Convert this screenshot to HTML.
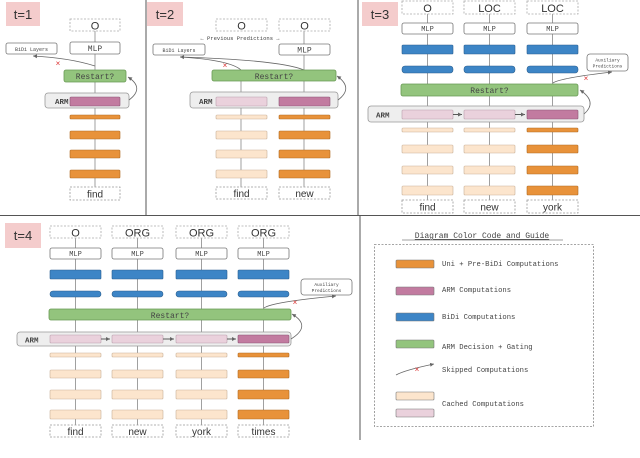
<!DOCTYPE html>
<html><head><meta charset="utf-8"><style>
html,body{margin:0;padding:0;background:#fff}
svg{display:block}
.m{font-family:"Liberation Mono",monospace;fill:#444}
.s{font-family:"Liberation Sans",sans-serif;fill:#333}
</style></head><body>
<svg width="640" height="458" viewBox="0 0 640 458" xmlns="http://www.w3.org/2000/svg">
<defs>
<marker id="ah" markerWidth="6" markerHeight="6" refX="5" refY="3" orient="auto"><path d="M0,0.5 L5,3 L0,5.5z" fill="#666"/></marker>
</defs>
<g stroke="#555" stroke-width="1">
<line x1="146" y1="0" x2="146" y2="215"/>
<line x1="358" y1="0" x2="358" y2="215"/>
<line x1="0" y1="215.5" x2="640" y2="215.5"/>
<line x1="360" y1="215" x2="360" y2="440"/>
</g>

<!-- ===== t=1 ===== -->
<rect x="6" y="2" width="34" height="24" fill="#f4cccc"/>
<text x="23" y="19" class="s" font-size="13" text-anchor="middle">t=1</text>
<line x1="95" y1="200" x2="95" y2="31" stroke="#888" stroke-width="0.8"/>
<rect x="70" y="19" width="50" height="12" fill="#fff" stroke="#aaa" stroke-dasharray="2,1.5" stroke-width="0.8"/>
<text x="95" y="29.5" class="s" font-size="11" text-anchor="middle">O</text>
<rect x="70" y="42" width="50" height="12" rx="2" fill="#fff" stroke="#777" stroke-width="0.8"/>
<text x="95" y="51" class="m" font-size="8" text-anchor="middle">MLP</text>
<rect x="6" y="43" width="51" height="11" rx="2" fill="#fff" stroke="#777" stroke-width="0.8"/>
<text x="31.5" y="51" class="m" font-size="5" text-anchor="middle">BiDi Layers</text>
<path d="M95,66 Q70,58 33,56" fill="none" stroke="#666" stroke-width="0.8" marker-end="url(#ah)"/>
<text x="58" y="66" font-size="8" fill="#d33" text-anchor="middle" font-family="Liberation Sans">×</text>
<rect x="64" y="70" width="62" height="12" rx="2" fill="#93c47d" stroke="#6a9a55" stroke-width="0.8"/>
<text x="95" y="79" class="m" font-size="8" text-anchor="middle">Restart?</text>
<rect x="45" y="93" width="84" height="15" rx="3" fill="#eee" stroke="#999" stroke-width="0.8"/>
<text x="55" y="104" class="m" font-size="7.5" font-weight="bold">ARM</text>
<rect x="70" y="97" width="50" height="9" rx="1" fill="#c27ba0" stroke="#8a5575" stroke-width="0.6"/>
<path d="M129,100 Q145,88 128,77" fill="none" stroke="#666" stroke-width="0.8" marker-end="url(#ah)"/>
<g fill="#e8923a" stroke="#b06a22" stroke-width="0.6">
<rect x="70" y="115" width="50" height="4" rx="1"/><rect x="70" y="131" width="50" height="8" rx="1"/>
<rect x="70" y="150" width="50" height="8" rx="1"/><rect x="70" y="170" width="50" height="8" rx="1"/></g>
<rect x="70" y="187" width="50" height="13" fill="#fff" stroke="#999" stroke-dasharray="2,1.5" stroke-width="0.8"/>
<text x="95" y="197.5" class="s" font-size="10" text-anchor="middle">find</text>

<!-- ===== t=2 ===== -->
<rect x="147" y="2" width="36" height="24" fill="#f4cccc"/>
<text x="165" y="19" class="s" font-size="13" text-anchor="middle">t=2</text>
<line x1="241" y1="187" x2="241" y2="70" stroke="#888" stroke-width="0.8"/>
<line x1="304" y1="187" x2="304" y2="31" stroke="#888" stroke-width="0.8"/>
<rect x="216" y="19" width="51" height="12" fill="#fff" stroke="#aaa" stroke-dasharray="2,1.5" stroke-width="0.8"/>
<text x="241.5" y="29.5" class="s" font-size="11" text-anchor="middle">O</text>
<rect x="279" y="19" width="51" height="12" fill="#fff" stroke="#aaa" stroke-dasharray="2,1.5" stroke-width="0.8"/>
<text x="304.5" y="29.5" class="s" font-size="11" text-anchor="middle">O</text>
<text x="240" y="40" class="m" font-size="5.5" text-anchor="middle">←  Previous Predictions  →</text>
<rect x="153" y="44" width="52" height="11" rx="2" fill="#fff" stroke="#777" stroke-width="0.8"/>
<text x="179" y="52" class="m" font-size="5" text-anchor="middle">BiDi Layers</text>
<rect x="279" y="44" width="51" height="11" rx="2" fill="#fff" stroke="#777" stroke-width="0.8"/>
<text x="304.5" y="52.5" class="m" font-size="8" text-anchor="middle">MLP</text>
<path d="M241,70 Q230,60 180,57" fill="none" stroke="#666" stroke-width="0.8"/>
<path d="M304,70 Q280,60 180,57" fill="none" stroke="#666" stroke-width="0.8" marker-end="url(#ah)"/>
<text x="225" y="68" font-size="8" fill="#d33" text-anchor="middle" font-family="Liberation Sans">×</text>
<rect x="212" y="70" width="124" height="11" rx="2" fill="#93c47d" stroke="#6a9a55" stroke-width="0.8"/>
<text x="274" y="79" class="m" font-size="8" text-anchor="middle">Restart?</text>
<rect x="190" y="92" width="148" height="16" rx="3" fill="#eee" stroke="#999" stroke-width="0.8"/>
<text x="199" y="104" class="m" font-size="7.5" font-weight="bold">ARM</text>
<rect x="216" y="97" width="51" height="9" rx="1" fill="#ead1dc" stroke="#b9a0ac" stroke-width="0.6"/>
<rect x="279" y="97" width="51" height="9" rx="1" fill="#c27ba0" stroke="#8a5575" stroke-width="0.6"/>
<path d="M338,100 Q354,88 337,76" fill="none" stroke="#666" stroke-width="0.8" marker-end="url(#ah)"/>
<g fill="#fce5cd" stroke="#c9b098" stroke-width="0.6">
<rect x="216" y="115" width="51" height="4" rx="1"/><rect x="216" y="131" width="51" height="8" rx="1"/>
<rect x="216" y="150" width="51" height="8" rx="1"/><rect x="216" y="170" width="51" height="8" rx="1"/></g>
<g fill="#e8923a" stroke="#b06a22" stroke-width="0.6">
<rect x="279" y="115" width="51" height="4" rx="1"/><rect x="279" y="131" width="51" height="8" rx="1"/>
<rect x="279" y="150" width="51" height="8" rx="1"/><rect x="279" y="170" width="51" height="8" rx="1"/></g>
<rect x="216" y="187" width="51" height="12" fill="#fff" stroke="#999" stroke-dasharray="2,1.5" stroke-width="0.8"/>
<text x="241.5" y="197" class="s" font-size="10" text-anchor="middle">find</text>
<rect x="279" y="187" width="51" height="12" fill="#fff" stroke="#999" stroke-dasharray="2,1.5" stroke-width="0.8"/>
<text x="304.5" y="197" class="s" font-size="10" text-anchor="middle">new</text>

<!-- ===== t=3 ===== -->
<rect x="362" y="2" width="36" height="24" fill="#f4cccc"/>
<text x="380" y="19" class="s" font-size="13" text-anchor="middle">t=3</text>
<g stroke="#888" stroke-width="0.8">
<line x1="427.5" y1="200" x2="427.5" y2="14"/><line x1="489.5" y1="200" x2="489.5" y2="14"/><line x1="552.5" y1="200" x2="552.5" y2="14"/></g>
<g fill="#fff" stroke="#aaa" stroke-dasharray="2,1.5" stroke-width="0.8">
<rect x="402" y="1" width="51" height="13"/><rect x="464" y="1" width="51" height="13"/><rect x="527" y="1" width="51" height="13"/></g>
<g class="s" font-size="11" text-anchor="middle"><text x="427.5" y="12">O</text><text x="489.5" y="12">LOC</text><text x="552.5" y="12">LOC</text></g>
<g fill="#fff" stroke="#777" stroke-width="0.8">
<rect x="402" y="23" width="51" height="11" rx="2"/><rect x="464" y="23" width="51" height="11" rx="2"/><rect x="527" y="23" width="51" height="11" rx="2"/></g>
<g class="m" font-size="7" text-anchor="middle"><text x="427.5" y="31">MLP</text><text x="489.5" y="31">MLP</text><text x="552.5" y="31">MLP</text></g>
<g fill="#3d85c6" stroke="#2a5f90" stroke-width="0.6">
<rect x="402" y="45" width="51" height="9" rx="1"/><rect x="464" y="45" width="51" height="9" rx="1"/><rect x="527" y="45" width="51" height="9" rx="1"/>
<rect x="402" y="66" width="51" height="7" rx="3"/><rect x="464" y="66" width="51" height="7" rx="3"/><rect x="527" y="66" width="51" height="7" rx="3"/></g>
<rect x="587" y="54" width="41" height="17" rx="3" fill="#fff" stroke="#777" stroke-width="0.8"/>
<text x="607.5" y="61.5" class="m" font-size="4.5" text-anchor="middle">Auxiliary</text>
<text x="607.5" y="67.5" class="m" font-size="4.5" text-anchor="middle">Predictions</text>
<path d="M553,83 Q560,78 612,72" fill="none" stroke="#666" stroke-width="0.8" marker-end="url(#ah)"/>
<text x="586" y="81" font-size="8" fill="#d33" text-anchor="middle" font-family="Liberation Sans">×</text>
<rect x="401" y="84" width="177" height="12" rx="2" fill="#93c47d" stroke="#6a9a55" stroke-width="0.8"/>
<text x="489.5" y="93" class="m" font-size="8" text-anchor="middle">Restart?</text>
<rect x="368" y="106" width="216" height="16" rx="3" fill="#eee" stroke="#999" stroke-width="0.8"/>
<text x="376" y="117.5" class="m" font-size="7.5" font-weight="bold">ARM</text>
<rect x="402" y="110" width="51" height="9" rx="1" fill="#ead1dc" stroke="#b9a0ac" stroke-width="0.6"/>
<rect x="464" y="110" width="51" height="9" rx="1" fill="#ead1dc" stroke="#b9a0ac" stroke-width="0.6"/>
<rect x="527" y="110" width="51" height="9" rx="1" fill="#c27ba0" stroke="#8a5575" stroke-width="0.6"/>
<g stroke="#333" stroke-width="0.8"><line x1="453" y1="114.5" x2="462" y2="114.5" marker-end="url(#ah)"/><line x1="515" y1="114.5" x2="525" y2="114.5" marker-end="url(#ah)"/></g>
<path d="M584,114 Q598,102 580,90" fill="none" stroke="#666" stroke-width="0.8" marker-end="url(#ah)"/>
<g fill="#fce5cd" stroke="#c9b098" stroke-width="0.6">
<rect x="402" y="128" width="51" height="4" rx="1"/><rect x="402" y="145" width="51" height="8" rx="1"/><rect x="402" y="166" width="51" height="8" rx="1"/><rect x="402" y="186" width="51" height="9" rx="1"/>
<rect x="464" y="128" width="51" height="4" rx="1"/><rect x="464" y="145" width="51" height="8" rx="1"/><rect x="464" y="166" width="51" height="8" rx="1"/><rect x="464" y="186" width="51" height="9" rx="1"/></g>
<g fill="#e8923a" stroke="#b06a22" stroke-width="0.6">
<rect x="527" y="128" width="51" height="4" rx="1"/><rect x="527" y="145" width="51" height="8" rx="1"/><rect x="527" y="166" width="51" height="8" rx="1"/><rect x="527" y="186" width="51" height="9" rx="1"/></g>
<g fill="#fff" stroke="#999" stroke-dasharray="2,1.5" stroke-width="0.8">
<rect x="402" y="200" width="51" height="13"/><rect x="464" y="200" width="51" height="13"/><rect x="527" y="200" width="51" height="13"/></g>
<g class="s" font-size="10" text-anchor="middle"><text x="427.5" y="210.5">find</text><text x="489.5" y="210.5">new</text><text x="552.5" y="210.5">york</text></g>

<!-- ===== t=4 ===== -->
<rect x="5" y="223" width="36" height="25" fill="#f4cccc"/>
<text x="23" y="240" class="s" font-size="13" text-anchor="middle">t=4</text>
<g stroke="#888" stroke-width="0.8">
<line x1="75.5" y1="425" x2="75.5" y2="238"/><line x1="137.5" y1="425" x2="137.5" y2="238"/><line x1="201.5" y1="425" x2="201.5" y2="238"/><line x1="263.5" y1="425" x2="263.5" y2="238"/></g>
<g fill="#fff" stroke="#aaa" stroke-dasharray="2,1.5" stroke-width="0.8">
<rect x="50" y="226" width="51" height="12"/><rect x="112" y="226" width="51" height="12"/><rect x="176" y="226" width="51" height="12"/><rect x="238" y="226" width="51" height="12"/></g>
<g class="s" font-size="11" text-anchor="middle"><text x="75.5" y="236.5">O</text><text x="137.5" y="236.5">ORG</text><text x="201.5" y="236.5">ORG</text><text x="263.5" y="236.5">ORG</text></g>
<g fill="#fff" stroke="#777" stroke-width="0.8">
<rect x="50" y="248" width="51" height="11" rx="2"/><rect x="112" y="248" width="51" height="11" rx="2"/><rect x="176" y="248" width="51" height="11" rx="2"/><rect x="238" y="248" width="51" height="11" rx="2"/></g>
<g class="m" font-size="7" text-anchor="middle"><text x="75.5" y="256">MLP</text><text x="137.5" y="256">MLP</text><text x="201.5" y="256">MLP</text><text x="263.5" y="256">MLP</text></g>
<g fill="#3d85c6" stroke="#2a5f90" stroke-width="0.6">
<rect x="50" y="270" width="51" height="9" rx="1"/><rect x="112" y="270" width="51" height="9" rx="1"/><rect x="176" y="270" width="51" height="9" rx="1"/><rect x="238" y="270" width="51" height="9" rx="1"/>
<rect x="50" y="291" width="51" height="6" rx="3"/><rect x="112" y="291" width="51" height="6" rx="3"/><rect x="176" y="291" width="51" height="6" rx="3"/><rect x="238" y="291" width="51" height="6" rx="3"/></g>
<rect x="301" y="279" width="51" height="16" rx="3" fill="#fff" stroke="#777" stroke-width="0.8"/>
<text x="326.5" y="286" class="m" font-size="4.5" text-anchor="middle">Auxiliary</text>
<text x="326.5" y="292" class="m" font-size="4.5" text-anchor="middle">Predictions</text>
<path d="M264,308 Q272,302 336,296" fill="none" stroke="#666" stroke-width="0.8" marker-end="url(#ah)"/>
<text x="295" y="305" font-size="8" fill="#d33" text-anchor="middle" font-family="Liberation Sans">×</text>
<rect x="49" y="309" width="242" height="11" rx="2" fill="#93c47d" stroke="#6a9a55" stroke-width="0.8"/>
<text x="170" y="318" class="m" font-size="8" text-anchor="middle">Restart?</text>
<rect x="17" y="332" width="274" height="14" rx="3" fill="#eee" stroke="#999" stroke-width="0.8"/>
<text x="25" y="342.5" class="m" font-size="7.5" font-weight="bold">ARM</text>
<g fill="#ead1dc" stroke="#b9a0ac" stroke-width="0.6">
<rect x="50" y="335" width="51" height="8" rx="1"/><rect x="112" y="335" width="51" height="8" rx="1"/><rect x="176" y="335" width="51" height="8" rx="1"/></g>
<rect x="238" y="335" width="51" height="8" rx="1" fill="#c27ba0" stroke="#8a5575" stroke-width="0.6"/>
<g stroke="#333" stroke-width="0.8"><line x1="101" y1="339" x2="110" y2="339" marker-end="url(#ah)"/><line x1="163" y1="339" x2="174" y2="339" marker-end="url(#ah)"/><line x1="227" y1="339" x2="236" y2="339" marker-end="url(#ah)"/></g>
<path d="M291,339 Q312,326 292,314" fill="none" stroke="#666" stroke-width="0.8" marker-end="url(#ah)"/>
<g fill="#fce5cd" stroke="#c9b098" stroke-width="0.6">
<rect x="50" y="353" width="51" height="4" rx="1"/><rect x="50" y="370" width="51" height="8" rx="1"/><rect x="50" y="390" width="51" height="9" rx="1"/><rect x="50" y="410" width="51" height="9" rx="1"/>
<rect x="112" y="353" width="51" height="4" rx="1"/><rect x="112" y="370" width="51" height="8" rx="1"/><rect x="112" y="390" width="51" height="9" rx="1"/><rect x="112" y="410" width="51" height="9" rx="1"/>
<rect x="176" y="353" width="51" height="4" rx="1"/><rect x="176" y="370" width="51" height="8" rx="1"/><rect x="176" y="390" width="51" height="9" rx="1"/><rect x="176" y="410" width="51" height="9" rx="1"/></g>
<g fill="#e8923a" stroke="#b06a22" stroke-width="0.6">
<rect x="238" y="353" width="51" height="4" rx="1"/><rect x="238" y="370" width="51" height="8" rx="1"/><rect x="238" y="390" width="51" height="9" rx="1"/><rect x="238" y="410" width="51" height="9" rx="1"/></g>
<g fill="#fff" stroke="#999" stroke-dasharray="2,1.5" stroke-width="0.8">
<rect x="50" y="425" width="51" height="12"/><rect x="112" y="425" width="51" height="12"/><rect x="176" y="425" width="51" height="12"/><rect x="238" y="425" width="51" height="12"/></g>
<g class="s" font-size="10" text-anchor="middle"><text x="75.5" y="435">find</text><text x="137.5" y="435">new</text><text x="201.5" y="435">york</text><text x="263.5" y="435">times</text></g>

<!-- ===== legend ===== -->
<text x="482" y="238" class="m" font-size="8" text-anchor="middle" text-decoration="underline">Diagram Color Code and Guide</text>
<line x1="402" y1="240" x2="563" y2="240" stroke="#444" stroke-width="0.6"/>
<rect x="374.5" y="244.5" width="219" height="182" fill="none" stroke="#888" stroke-dasharray="2,1.5" stroke-width="0.8"/>
<rect x="396" y="260" width="38" height="8" rx="1" fill="#e8923a" stroke="#777" stroke-width="0.6"/>
<rect x="396" y="287" width="38" height="8" rx="1" fill="#c27ba0" stroke="#777" stroke-width="0.6"/>
<rect x="396" y="313" width="38" height="8" rx="1" fill="#3d85c6" stroke="#777" stroke-width="0.6"/>
<rect x="396" y="340" width="38" height="8" rx="1" fill="#93c47d" stroke="#777" stroke-width="0.6"/>
<path d="M396,375 Q405,370 434,364" fill="none" stroke="#666" stroke-width="0.8" marker-end="url(#ah)"/>
<text x="417" y="372" font-size="8" fill="#d33" text-anchor="middle" font-family="Liberation Sans">×</text>
<rect x="396" y="392" width="38" height="8" rx="1" fill="#fce5cd" stroke="#777" stroke-width="0.6"/>
<rect x="396" y="409" width="38" height="8" rx="1" fill="#ead1dc" stroke="#777" stroke-width="0.6"/>
<g class="m" font-size="7.2" style="fill:#444">
<text x="442" y="266">Uni + Pre-BiDi Computations</text>
<text x="442" y="292">ARM Computations</text>
<text x="442" y="319">BiDi Computations</text>
<text x="442" y="349">ARM Decision + Gating</text>
<text x="442" y="372">Skipped Computations</text>
<text x="442" y="406">Cached Computations</text>
</g>
</svg>
</body></html>
